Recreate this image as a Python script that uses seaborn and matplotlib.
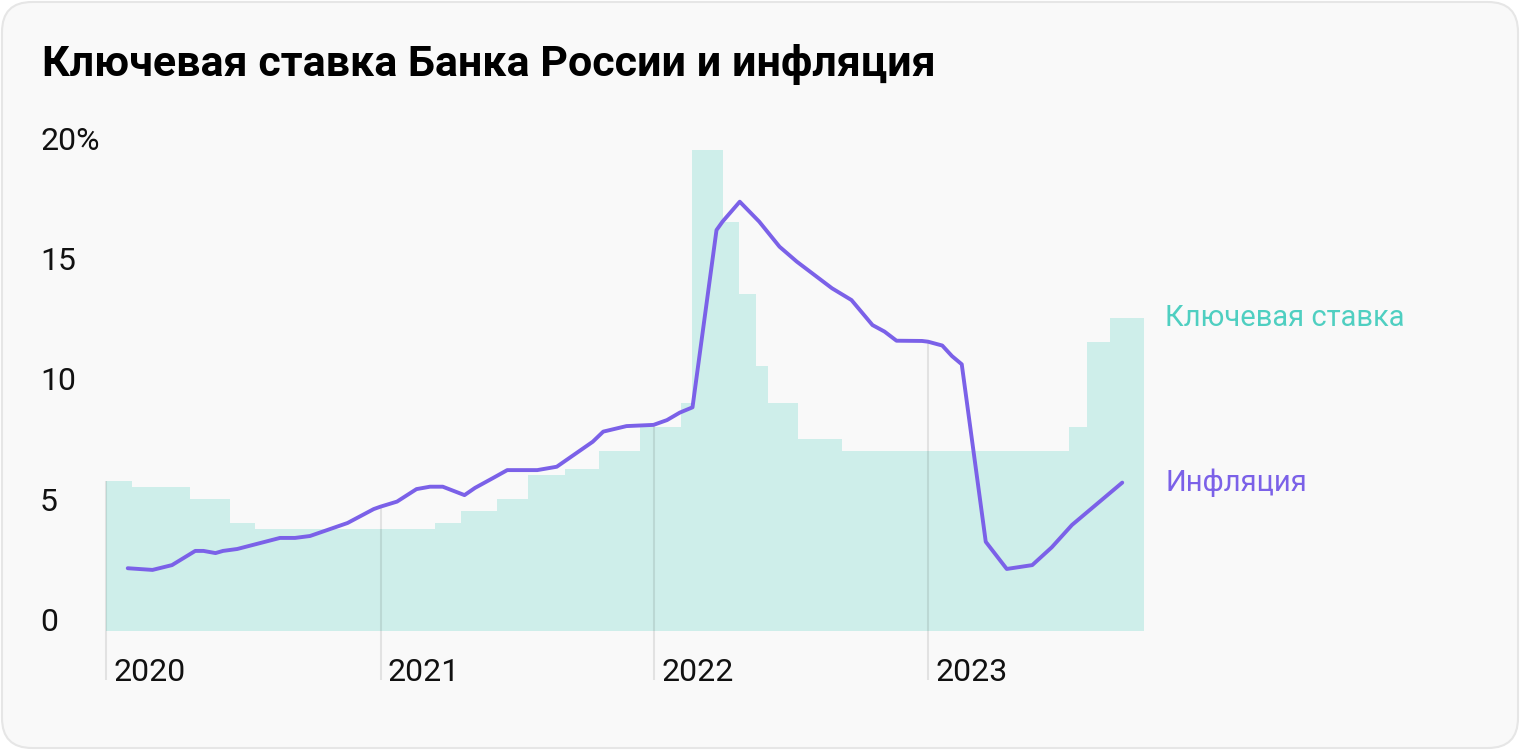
import matplotlib.pyplot as plt
import matplotlib.transforms as mtransforms
from matplotlib.patches import FancyBboxPatch
import numpy as np
import pandas as pd
import seaborn as sns

# key rate, step changes
rate_dates = ['2020-01-01', '2020-02-05', '2020-04-22', '2020-06-14', '2020-07-18',
              '2021-03-14', '2021-04-18', '2021-06-05', '2021-07-16', '2021-09-04',
              '2021-10-19', '2021-12-13', '2022-02-05', '2022-02-20', '2022-04-02',
              '2022-04-24', '2022-05-16', '2022-06-01', '2022-07-11', '2022-09-08',
              '2023-07-08', '2023-08-01', '2023-08-31']
rate_values = [6.25, 6.0, 5.5, 4.5, 4.25,
               4.5, 5.0, 5.5, 6.5, 6.75,
               7.5, 8.5, 9.5, 20.0, 17.0,
               14.0, 11.0, 9.5, 8.0, 7.5,
               8.5, 12.0, 13.0]
rate_end = '2023-10-16'

# inflation, % y/y
infl_dates = ['2020-01-30', '2020-03-03', '2020-03-29', '2020-04-29', '2020-05-10',
              '2020-05-26', '2020-06-05', '2020-06-24', '2020-08-20', '2020-09-09',
              '2020-09-29', '2020-11-18', '2020-12-23', '2021-01-01', '2021-01-23',
              '2021-02-18', '2021-03-08', '2021-03-25', '2021-04-23', '2021-05-07',
              '2021-05-31', '2021-06-19', '2021-07-29', '2021-08-24', '2021-10-11',
              '2021-10-25', '2021-11-25', '2021-12-31', '2022-01-18', '2022-02-04',
              '2022-02-21', '2022-03-25', '2022-04-02', '2022-04-25', '2022-05-21',
              '2022-06-17', '2022-07-10', '2022-08-26', '2022-09-21', '2022-10-19',
              '2022-11-04', '2022-11-20', '2022-12-24', '2023-01-01', '2023-01-20',
              '2023-02-02', '2023-02-15', '2023-03-19', '2023-04-16', '2023-05-20',
              '2023-06-15', '2023-07-12', '2023-09-17']
infl_values = [2.61, 2.54, 2.74, 3.33, 3.33,
               3.24, 3.33, 3.41, 3.87, 3.87,
               3.95, 4.49, 5.07, 5.17, 5.38,
               5.90, 6.00, 6.00, 5.65, 5.95,
               6.36, 6.69, 6.69, 6.83, 7.87,
               8.29, 8.52, 8.57, 8.77, 9.08,
               9.30, 16.67, 17.02, 17.85, 17.02,
               15.98, 15.36, 14.25, 13.76, 12.72,
               12.45, 12.07, 12.06, 12.03, 11.87,
               11.43, 11.09, 3.71, 2.58, 2.74,
               3.48, 4.41, 6.17]

years = ['2020', '2021', '2022', '2023']
y_ticks = [0, 5, 10, 15, 20]
y_labels = ['0', '5', '10', '15', '20%']

title = 'Ключевая ставка Банка России и инфляция'
rate_name = 'Ключевая ставка'
infl_name = 'Инфляция'

teal_fill = '#ceeeea'
teal_text = '#4fcfc1'
purple = '#7b61e8'

sns.set_theme(style='white')
plt.rcParams['font.family'] = ['Roboto', 'DejaVu Sans']

W, H = 1520, 750
fig = plt.figure(figsize=(W / 100, H / 100), dpi=100)
fig.patch.set_facecolor('white')

# rounded card behind everything
card = FancyBboxPatch((2, 2), W - 4, H - 4, boxstyle='round,pad=0,rounding_size=30',
                      facecolor='#f9f9f9', edgecolor='#e6e6e6', linewidth=1.5,
                      transform=mtransforms.IdentityTransform(), zorder=-10)
fig.add_artist(card)

ax = fig.add_axes([106 / W, 119 / H, 1038 / W, 481 / H])
ax.set_facecolor('none')

rd = pd.to_datetime(rate_dates + [rate_end])
rv = rate_values + [rate_values[-1]]
ax.fill_between(rd, rv, 0, step='post', color=teal_fill, linewidth=0, zorder=1)

idates = pd.to_datetime(infl_dates)
sns.lineplot(x=idates, y=infl_values, ax=ax, color=purple, linewidth=2.8, zorder=4)

ax.set_xlim(pd.Timestamp('2020-01-01'), pd.Timestamp(rate_end))
ax.set_ylim(0, 20)
ax.set_xticks([])
ax.set_yticks([])
ax.set_xlabel('')
ax.set_ylabel('')
for s in ax.spines.values():
    s.set_visible(False)

# year separators go from below the axis up to the higher of the two series
rnum = rd.values.astype('datetime64[D]').astype(float)
inum = idates.values.astype('datetime64[D]').astype(float)
offs = mtransforms.offset_copy(ax.transData, fig=fig, x=7, y=0, units='dots')
for y in years:
    d = pd.Timestamp(y + '-01-01')
    dn = np.datetime64(d, 'D').astype(float)
    r = rv[np.searchsorted(rnum, dn, side='right') - 1]
    i = np.interp(dn, inum, infl_values, left=np.nan)
    top = np.nanmax([r, i])
    ax.vlines(d, -2.05, top, color=(0, 0, 0, 0.09), linewidth=1.5, clip_on=False, zorder=3)
    ax.text(d, -2.08, y, transform=offs, ha='left', va='baseline',
            fontsize=23, color='#111111', clip_on=False)

trans = mtransforms.blended_transform_factory(fig.transFigure, ax.transData)
for v, lab in zip(y_ticks, y_labels):
    ax.text(40 / W, v, lab, transform=trans, ha='left', va='baseline',
            fontsize=23, color='#111111', clip_on=False)

ax.text(1165 / W, rate_values[-1], rate_name, transform=trans, ha='left', va='center',
        fontsize=21, color=teal_text, clip_on=False)
ax.text(1165 / W, infl_values[-1], infl_name, transform=trans, ha='left', va='center',
        fontsize=21, color=purple, clip_on=False)

fig.text(42 / W, 1 - 76 / H, title, ha='left', va='baseline', fontsize=31,
         fontweight='bold', color='#000000')

fig.savefig('out.png', dpi=100, facecolor=fig.get_facecolor())
